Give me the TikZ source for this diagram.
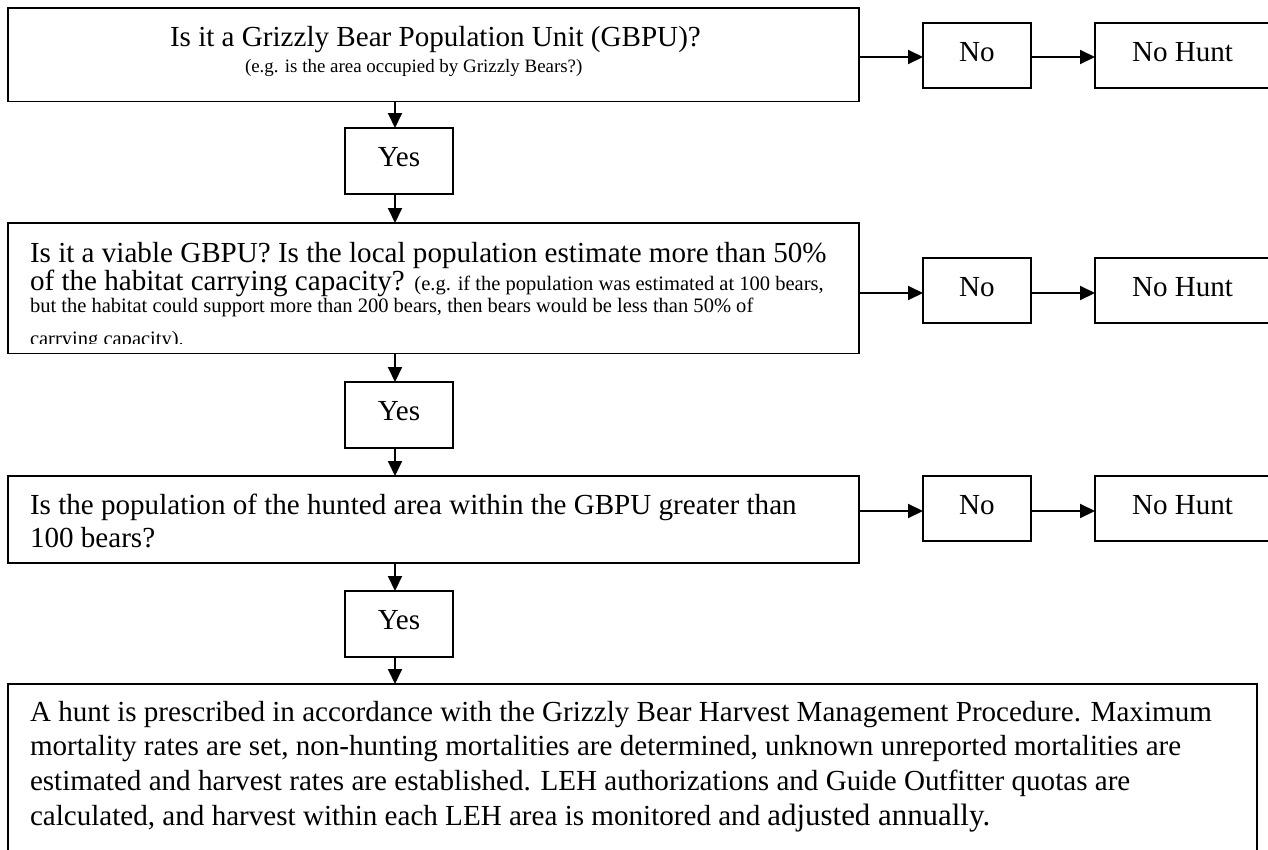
\documentclass[tikz,border=0pt]{standalone}
\usepackage{fontspec}
\setmainfont{Liberation Serif}
\usetikzlibrary{arrows.meta}
\newcommand\txtL{\fontsize{29.2}{34}\selectfont}
\newcommand\txtS{\fontsize{19}{22}\selectfont}
\newcommand\txtM{\fontsize{20.6}{23}\selectfont}
\tikzset{
  box/.style={draw, line width=1.8bp, inner sep=0pt, outer sep=0pt},
  arr/.style={line width=2bp, -{Triangle[length=15bp,width=14bp]}},
  lbl/.style={anchor=base west, inner sep=0pt, outer sep=0pt, font=\txtL},
  clbl/.style={anchor=base, inner sep=0pt, outer sep=0pt, font=\txtL},
  slbl/.style={anchor=base west, inner sep=0pt, outer sep=0pt, font=\txtS},
  mlbl/.style={anchor=base west, inner sep=0pt, outer sep=0pt, font=\txtM}
}
\begin{document}
\begin{tikzpicture}[x=1bp,y=-1bp]
\clip (0,0) rectangle (1268,850);
\fill[white] (0,0) rectangle (1268,850);
% boxes
\node[box, minimum width=851bp, minimum height=93.5bp] (q1) at (433.5,54.75) {};
\node[box, minimum width=108bp, minimum height=66bp] (yes1) at (399,161) {};
\node[box, minimum width=108bp, minimum height=65bp] (no1) at (977,55.5) {};
\node[box, minimum width=195bp, minimum height=65bp] (nh1) at (1192.5,55.5) {};
\node[box, minimum width=851bp, minimum height=130.5bp] (q2) at (433.5,288.25) {};
\node[box, minimum width=108bp, minimum height=66bp] (yes2) at (399,415) {};
\node[box, minimum width=108bp, minimum height=65bp] (no2) at (977,290.5) {};
\node[box, minimum width=195bp, minimum height=65bp] (nh2) at (1192.5,290.5) {};
\node[box, minimum width=851bp, minimum height=87bp] (q3) at (433.5,519.5) {};
\node[box, minimum width=108bp, minimum height=66bp] (yes3) at (399,624) {};
\node[box, minimum width=108bp, minimum height=65bp] (no3) at (977,508.5) {};
\node[box, minimum width=195bp, minimum height=65bp] (nh3) at (1192.5,508.5) {};
\node[box, minimum width=1249bp, minimum height=196bp] (fin) at (632.5,782) {};
% texts
\node[lbl] (t1a) at (170,46) {Is it a Grizzly Bear Population Unit (GBPU)?};
\node[slbl] (t1b) at (245,72) {(e.g. is the area occupied by Grizzly Bears?)};
\node[clbl] (ty1) at (399,166.5) {Yes};
\node[clbl] (tn1) at (977,61) {No};
\node[lbl] (th1) at (1132,61) {No Hunt};
\node[lbl] (t2a) at (30,262) {Is it a viable GBPU? Is the local population estimate more than 50\%};
\node[lbl] (t2b) at (30,290) {of the habitat carrying capacity? {\txtM(e.g. if the population was estimated at 100 bears,}};
\node[mlbl] (t2c) at (30,312) {but the habitat could support more than 200 bears, then bears would be less than 50\% of};
\begin{scope}
\clip (8,223) rectangle (859,343);
\node[mlbl] (t2d) at (30,345) {carrying capacity).};
\end{scope}
\node[clbl] (ty2) at (399,420.5) {Yes};
\node[clbl] (tn2) at (977,296.5) {No};
\node[lbl] (th2) at (1132,296.5) {No Hunt};
\node[lbl] (t3a) at (30,514) {Is the population of the hunted area within the GBPU greater than};
\node[lbl] (t3b) at (30,547) {100 bears?};
\node[clbl] (ty3) at (399,629.5) {Yes};
\node[clbl] (tn3) at (977,514.5) {No};
\node[lbl] (th3) at (1132,514.5) {No Hunt};
\node[lbl] (t4a) at (30,721) {A hunt is prescribed in accordance with the Grizzly Bear Harvest Management Procedure. Maximum};
\node[lbl] (t4b) at (30,755.5) {mortality rates are set, non-hunting mortalities are determined, unknown unreported mortalities are};
\node[lbl] (t4c) at (30,790) {estimated and harvest rates are established. LEH authorizations and Guide Outfitter quotas are};
\node[lbl] (t4d) at (30,825) {calculated, and harvest within each LEH area is monitored and {\fontsize{31}{34}\selectfont adjusted annually.}};
% connectors
\coordinate (ax) at (395,0);
\coordinate (r1) at (0,57);
\coordinate (r2) at (0,293);
\coordinate (r3) at (0,511);
\draw[arr] (q1.south -| ax) -- (yes1.north -| ax);
\draw[arr] (yes1.south -| ax) -- (q2.north -| ax);
\draw[arr] (q2.south -| ax) -- (yes2.north -| ax);
\draw[arr] (yes2.south -| ax) -- (q3.north -| ax);
\draw[arr] (q3.south -| ax) -- (yes3.north -| ax);
\draw[arr] (yes3.south -| ax) -- (fin.north -| ax);
\draw[arr] (q1.east |- r1) -- (no1.west |- r1);
\draw[arr] (no1.east |- r1) -- (nh1.west |- r1);
\draw[arr] (q2.east |- r2) -- (no2.west |- r2);
\draw[arr] (no2.east |- r2) -- (nh2.west |- r2);
\draw[arr] (q3.east |- r3) -- (no3.west |- r3);
\draw[arr] (no3.east |- r3) -- (nh3.west |- r3);
\end{tikzpicture}
\end{document}
